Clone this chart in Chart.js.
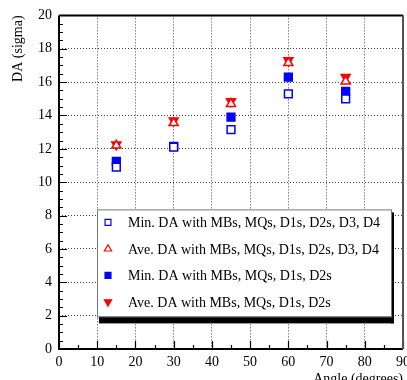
<!DOCTYPE html>
<html>
<head>
<meta charset="utf-8">
<script src="https://cdn.jsdelivr.net/npm/chart.js@4/dist/chart.umd.min.js"></script>
<style>
    html, body { margin: 0; padding: 0; background: #fff; overflow: hidden; }
    #wrap { position: relative; width: 415px; height: 392px; }
</style>
</head>
<body>
<div id="wrap"><canvas id="chart"></canvas></div>
<script>
// البيانات
const angles = [15, 30, 45, 60, 75];
const minDaAll = [10.9, 12.1, 13.15, 15.3, 15.0];
const aveDaAll = [12.2, 13.55, 14.7, 17.15, 16.05];
const minDaSub = [11.25, 12.15, 13.9, 16.3, 15.45];
const aveDaSub = [12.25, 13.7, 14.85, 17.3, 16.3];
const seriesLabels = [
    'Min. DA with MBs, MQs, D1s, D2s, D3, D4',
    'Ave. DA with MBs, MQs, D1s, D2s, D3, D4',
    'Min. DA with MBs, MQs, D1s, D2s',
    'Ave. DA with MBs, MQs, D1s, D2s'
];
const xTitle = 'Angle (degrees)';
const yTitle = 'DA (sigma)';

const FONT = "'Liberation Serif', 'DejaVu Serif', serif";
const BLUE = '#0000ff';
const RED = '#ff0000';

function toPoints(values) {
    return values.map((v, i) => ({ x: angles[i], y: v }));
}

// إطار المحاور والعلامات الداخلية
const framePlugin = {
    id: 'frame',
    afterDatasetsDraw(chart) {
        const ctx = chart.ctx;
        const a = chart.chartArea;
        const xs = chart.scales.x;
        const ys = chart.scales.y;
        ctx.save();
        ctx.strokeStyle = '#000';
        ctx.lineWidth = 1.2;
        ctx.beginPath();
        for (let v = 0; v <= 20.001; v += 0.5) {
            const y = Math.round(ys.getPixelForValue(v)) + 0.5;
            const len = (Math.abs(v % 2) < 0.01) ? 8 : 4;
            ctx.moveTo(a.left, y);
            ctx.lineTo(a.left + len, y);
        }
        for (let v = 0; v <= 90.001; v += 5) {
            const x = Math.round(xs.getPixelForValue(v)) + 0.5;
            const len = (Math.abs(v % 10) < 0.01) ? 8 : 4;
            ctx.moveTo(x, a.bottom);
            ctx.lineTo(x, a.bottom - len);
        }
        ctx.stroke();
        ctx.lineWidth = 2;
        ctx.strokeStyle = '#000';
        ctx.beginPath();
        ctx.moveTo(a.left, a.top);
        ctx.lineTo(a.left, a.bottom);
        ctx.lineTo(a.right, a.bottom);
        ctx.moveTo(a.left, a.top);
        ctx.lineTo(a.right, a.top);
        ctx.stroke();
        ctx.strokeStyle = '#555';
        ctx.beginPath();
        ctx.moveTo(a.right, a.top);
        ctx.lineTo(a.right, a.bottom);
        ctx.stroke();
        ctx.restore();
    }
};

// وسيلة الإيضاح داخل منطقة الرسم
const legendBoxPlugin = {
    id: 'legendBox',
    afterDraw(chart) {
        const ctx = chart.ctx;
        const a = chart.chartArea;
        const bx = a.left + 38, by = a.top + 194, bw = 294, bh = 107;
        ctx.save();
        // الظل
        ctx.fillStyle = '#000';
        ctx.fillRect(bx + 2, by + bh, bw, 7);
        ctx.fillRect(bx + bw, by + 3, 3, bh + 4);
        ctx.fillStyle = '#fff';
        ctx.fillRect(bx, by, bw, bh);
        ctx.strokeStyle = '#777';
        ctx.lineWidth = 1;
        ctx.strokeRect(bx + 0.5, by + 0.5, bw, bh);
        ctx.font = '14px ' + FONT;
        ctx.textBaseline = 'middle';
        chart.data.datasets.forEach((ds, i) => {
            const cy = by + 13 + i * 26.5;
            ctx.fillStyle = ds.backgroundColor;
            ctx.strokeStyle = ds.borderColor;
            ctx.lineWidth = 1.2;
            Chart.helpers.drawPoint(ctx, {
                pointStyle: ds.pointStyle,
                radius: 4.2,
                rotation: ds.rotation || 0,
                borderWidth: 1.2
            }, bx + 11, cy);
            ctx.fillStyle = '#000';
            ctx.fillText(ds.label, bx + 31, cy + 1);
        });
        ctx.restore();
    }
};

const styles = [
    { color: BLUE, fill: '#fff', pointStyle: 'rect', radius: 5.5, rotation: 0 },
    { color: RED, fill: '#fff', pointStyle: 'triangle', radius: 5.2, rotation: 0 },
    { color: BLUE, fill: BLUE, pointStyle: 'rect', radius: 5.5, rotation: 0 },
    { color: RED, fill: RED, pointStyle: 'triangle', radius: 5.2, rotation: 180 }
];
const seriesValues = [minDaAll, aveDaAll, minDaSub, aveDaSub];

const datasets = seriesValues.map((vals, i) => ({
    label: seriesLabels[i],
    data: toPoints(vals),
    pointStyle: styles[i].pointStyle,
    rotation: styles[i].rotation,
    pointRadius: styles[i].radius,
    borderColor: styles[i].color,
    backgroundColor: styles[i].fill,
    borderWidth: 1.5,
    showLine: false
}));

new Chart(document.getElementById('chart'), {
    type: 'scatter',
    data: { datasets: datasets },
    options: {
        responsive: true,
        maintainAspectRatio: false,
        animation: false,
        layout: { padding: { top: 15, right: 7, left: 0, bottom: 0 } },
        plugins: {
            legend: { display: false },
            tooltip: { enabled: false }
        },
        scales: {
            x: {
                type: 'linear',
                min: 0,
                max: 90,
                afterFit(scale) { scale.height = 43; },
                ticks: {
                    stepSize: 10,
                    maxRotation: 0,
                    autoSkip: false,
                    padding: 5,
                    color: '#000',
                    font: { family: FONT, size: 14 }
                },
                grid: {
                    color: 'rgba(0,0,0,0.75)',
                    lineWidth: 1,
                    drawTicks: false
                },
                border: { display: false, dash: [1, 2] },
                title: {
                    display: true,
                    text: xTitle,
                    align: 'end',
                    color: '#000',
                    font: { family: FONT, size: 14 },
                    padding: { top: 0, bottom: 4 }
                }
            },
            y: {
                type: 'linear',
                min: 0,
                max: 20,
                afterFit(scale) { scale.width = 59; },
                ticks: {
                    stepSize: 2,
                    padding: 7,
                    color: '#000',
                    font: { family: FONT, size: 14 }
                },
                grid: {
                    color: 'rgba(0,0,0,0.75)',
                    lineWidth: 1,
                    drawTicks: false
                },
                border: { display: false, dash: [1, 2] },
                title: {
                    display: true,
                    text: yTitle,
                    align: 'end',
                    color: '#000',
                    font: { family: FONT, size: 14 },
                    padding: { top: 10, bottom: 0 }
                }
            }
        }
    },
    plugins: [framePlugin, legendBoxPlugin]
});
</script>
</body>
</html>
